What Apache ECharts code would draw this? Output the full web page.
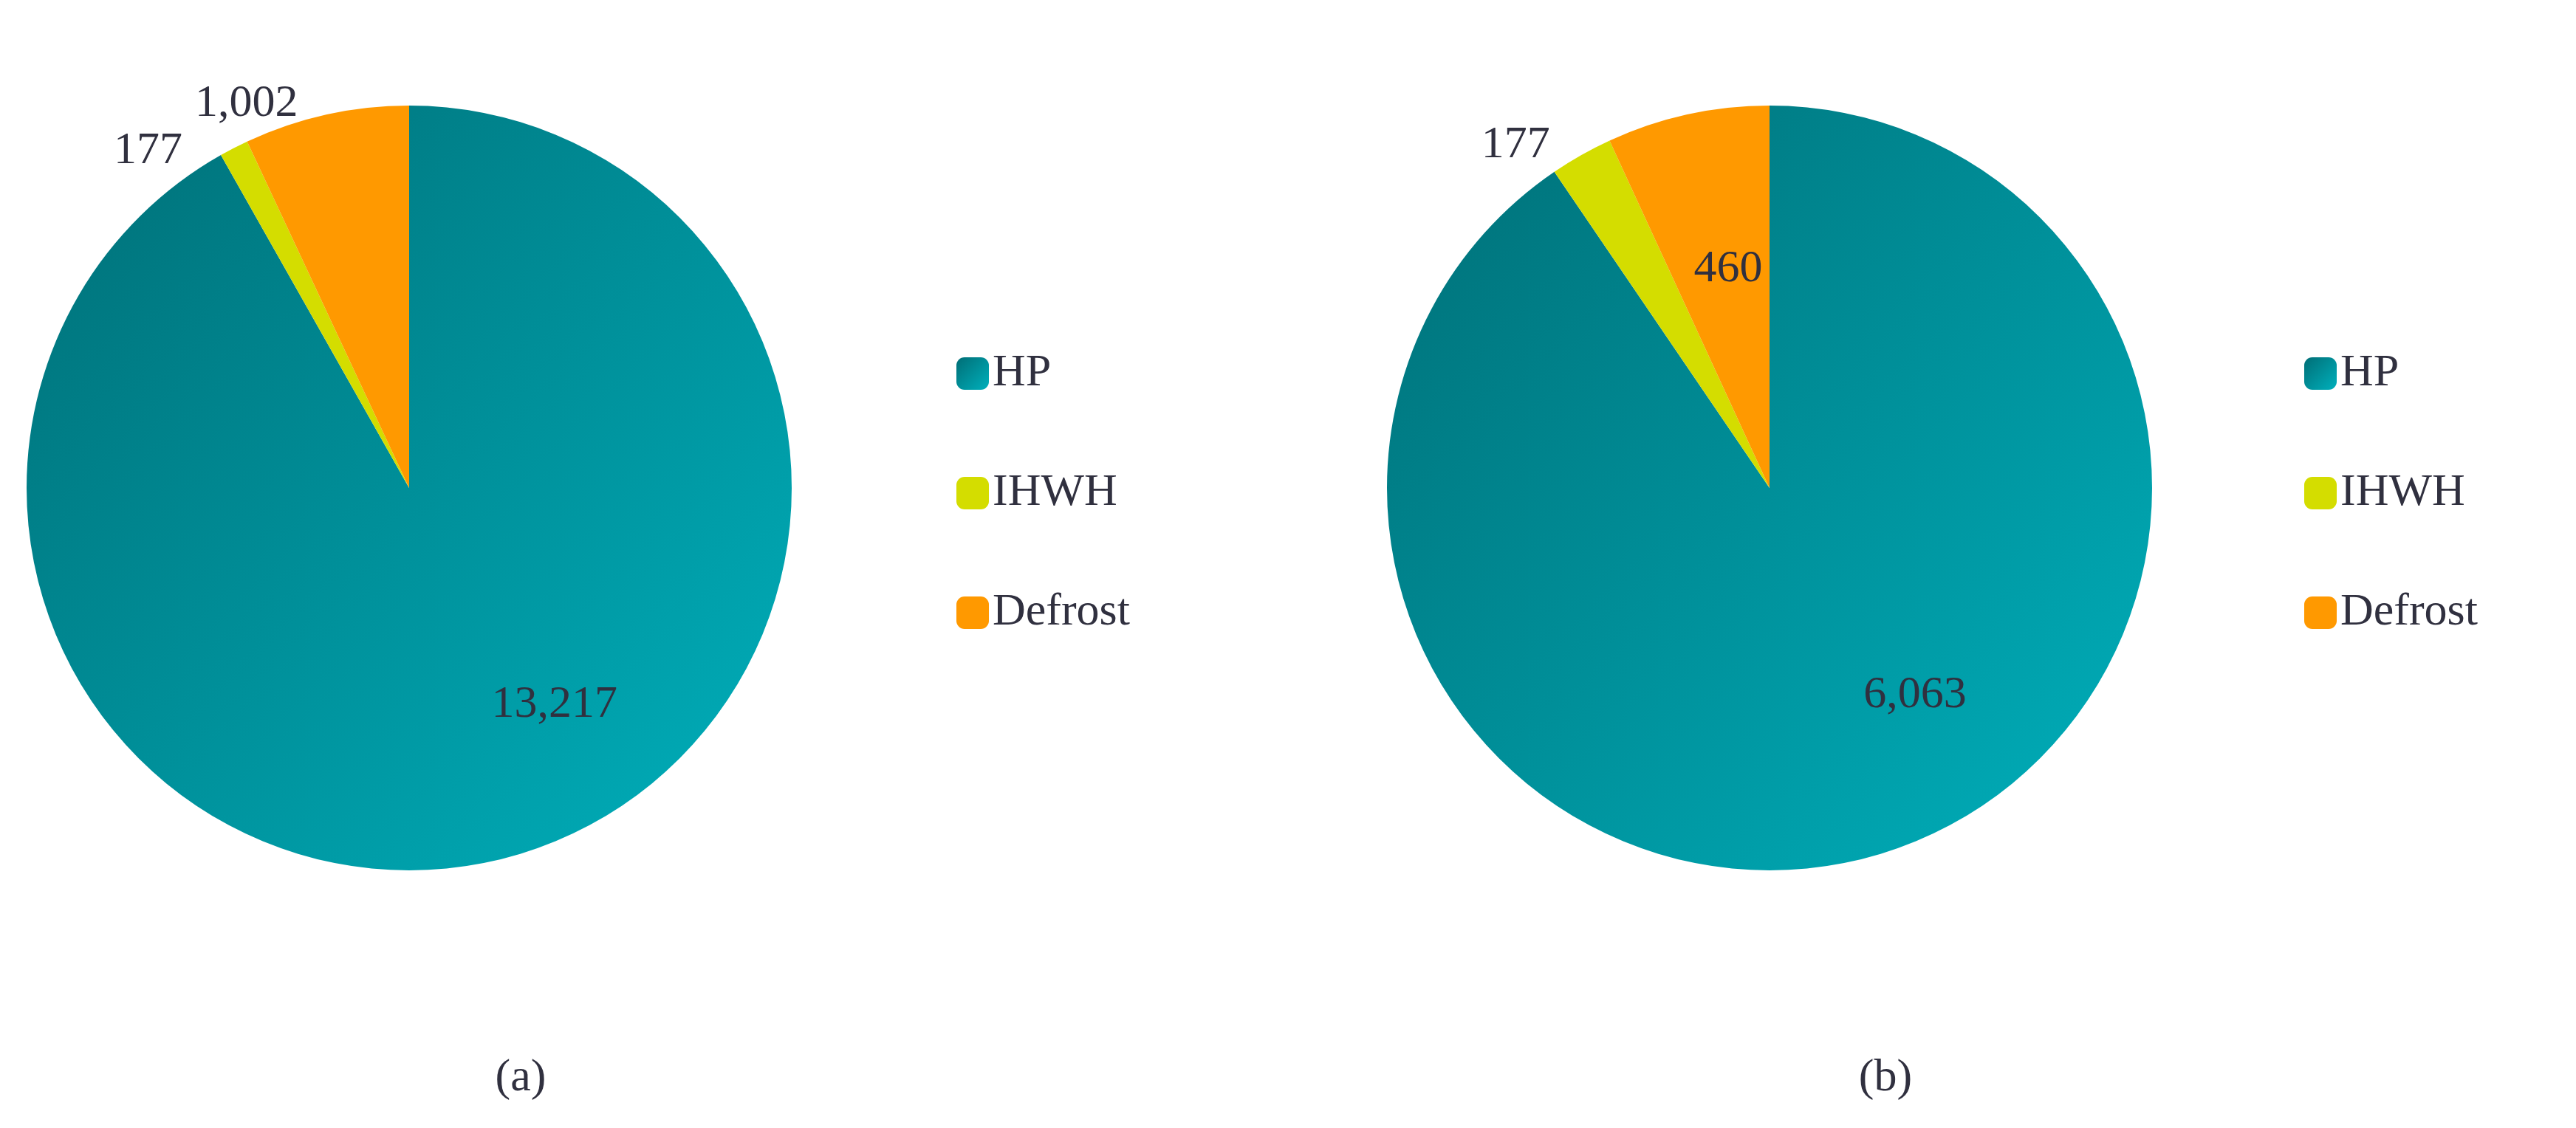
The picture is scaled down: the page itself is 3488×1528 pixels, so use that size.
<!DOCTYPE html>
<html>
<head>
<meta charset="utf-8">
<script src="https://cdn.jsdelivr.net/npm/echarts@6/dist/echarts.min.js"></script>
<style>html,body{margin:0;background:#fff}#main{width:3488px;height:1528px}</style>
</head>
<body>
<div id="main"></div>
<script>
var categories = ["HP", "IHWH", "Defrost"];
var valuesA = [13217, 177, 1002];
var valuesB = [6063, 177, 460];
var captions = ["a", "b"];

var txt = "#30303f";
var font = "Liberation Serif";
var hpColor = new echarts.graphic.LinearGradient(0, 0, 1, 1, [
    { offset: 0, color: "#006e76" },
    { offset: 1, color: "#00b0bc" }
]);
var colors = [hpColor, "#d4dd00", "#ff9900"];

function makeData(vals, insideDefrost, hpOffset) {
    var out = [];
    for (var i = 0; i < vals.length; i++) {
        var lbl = { position: "outside", distance: 10 };
        if (i == 0) lbl = { position: "inside", offset: hpOffset };
        if (i == 2 && insideDefrost) lbl = { position: "inside", offset: [0, -40] };
        out.push({ name: categories[i], value: vals[i], itemStyle: { color: colors[i] }, label: lbl });
    }
    return out;
}

function pieSeries(vals, cx, insideDefrost, hpOffset) {
    return {
        type: "pie",
        center: [cx, 661],
        radius: [0, 518],
        startAngle: 90,
        clockwise: true,
        data: makeData(vals, insideDefrost, hpOffset),
        label: {
            formatter: function (p) { return p.value.toLocaleString("en-US"); },
            fontFamily: font, fontSize: 62, color: txt
        },
        labelLine: { show: false },
        emphasis: { disabled: true }
    };
}

var myChart = echarts.init(document.getElementById('main'));
var option = {
    animation: false,
    legend: [
        { left: 1290, top: 470, orient: "vertical", itemGap: 100, itemWidth: 44, itemHeight: 44,
          data: categories, textStyle: { fontFamily: font, fontSize: 62, color: txt } },
        { left: 3115, top: 470, orient: "vertical", itemGap: 100, itemWidth: 44, itemHeight: 44,
          data: categories, textStyle: { fontFamily: font, fontSize: 62, color: txt } }
    ],
    title: [
        { text: "(" + captions[0] + ")", left: 700, top: 1425, textAlign: "center",
          textStyle: { fontFamily: font, fontSize: 62, fontWeight: "normal", color: txt,
            rich: {} } },
        { text: "(" + captions[1] + ")", left: 2548, top: 1425, textAlign: "center",
          textStyle: { fontFamily: font, fontSize: 62, fontWeight: "normal", color: txt } }
    ],
    series: [
        pieSeries(valuesA, 554, false, [130, 40]),
        pieSeries(valuesB, 2396, true, [120, 30])
    ]
};
myChart.setOption(option);
</script>
</body>
</html>
